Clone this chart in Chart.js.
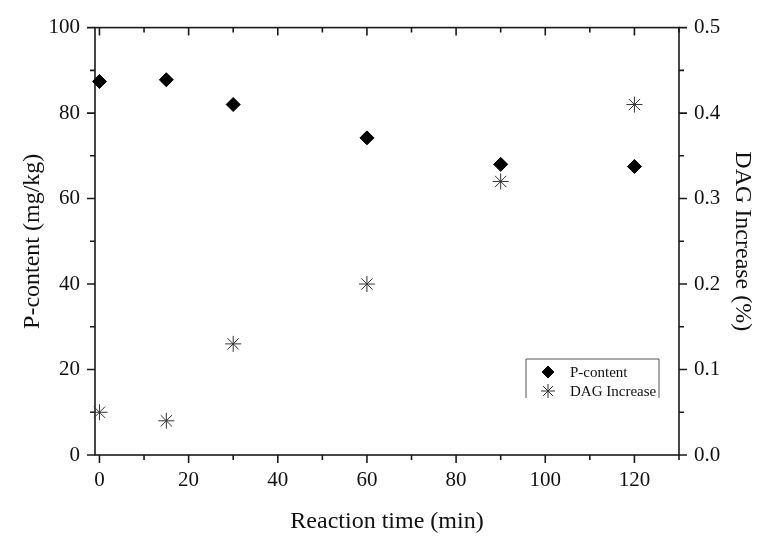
<!DOCTYPE html>
<html>
<head>
<meta charset="utf-8">
<script src="https://cdn.jsdelivr.net/npm/chart.js@4/dist/chart.umd.min.js"></script>
<style>
  html, body { margin: 0; padding: 0; background: #fff; }
  #wrap { width: 764px; height: 540px; }
</style>
</head>
<body>
<div id="wrap"><canvas id="c" width="764" height="540"></canvas></div>
<script>
// data
const times       = [0, 15, 30, 60, 90, 120];
const pContent    = [87.4, 87.8, 82.0, 74.2, 68.0, 67.5];
const dagIncrease = [0.05, 0.04, 0.13, 0.20, 0.32, 0.41];

const xTicks   = [0, 20, 40, 60, 80, 100, 120];
const xMinor   = [10, 30, 50, 70, 90, 110, 130];
const yTicks   = [0, 20, 40, 60, 80, 100];
const yMinor   = [10, 30, 50, 70, 90];
const y2Ticks  = [0, 0.1, 0.2, 0.3, 0.4, 0.5];
const y2Minor  = [0.05, 0.15, 0.25, 0.35, 0.45];

const SERIF = '"Liberation Serif", "Times New Roman", serif';
const INK   = '#1a1a1a';

// frame + major/minor ticks, Origin style
const frameTicks = {
  id: 'frameTicks',
  beforeDatasetsDraw(chart) {
    const { ctx, chartArea: a, scales } = chart;
    const { x, y, y2 } = scales;
    ctx.save();
    ctx.strokeStyle = INK;
    ctx.lineWidth = 1.6;
    ctx.strokeRect(a.left, a.top, a.right - a.left, a.bottom - a.top);

    ctx.beginPath();
    const hx = (v, len) => {
      const p = x.getPixelForValue(v);
      ctx.moveTo(p, a.bottom); ctx.lineTo(p, a.bottom + len);
      ctx.moveTo(p, a.top);    ctx.lineTo(p, a.top + len);
    };
    xTicks.forEach(v => hx(v, 8));
    xMinor.forEach(v => hx(v, 5));

    const vl = (v, len) => {
      const p = y.getPixelForValue(v);
      ctx.moveTo(a.left, p); ctx.lineTo(a.left - len, p);
    };
    yTicks.forEach(v => vl(v, 8));
    yMinor.forEach(v => vl(v, 5));

    const vr = (v, len) => {
      const p = y2.getPixelForValue(v);
      ctx.moveTo(a.right, p); ctx.lineTo(a.right + len, p);
    };
    y2Ticks.forEach(v => vr(v, 8));
    y2Minor.forEach(v => vr(v, 5));
    ctx.stroke();
    ctx.restore();
  }
};

// small open-bottom legend box in lower right
const boxLegend = {
  id: 'boxLegend',
  afterDraw(chart) {
    const { ctx, chartArea: a } = chart;
    const L = a.right - 153, R = a.right - 20, T = a.bottom - 96, B = a.bottom - 57;
    ctx.save();
    ctx.strokeStyle = '#555';
    ctx.lineWidth = 1;
    ctx.beginPath();
    ctx.moveTo(L, B); ctx.lineTo(L, T); ctx.lineTo(R, T); ctx.lineTo(R, B);
    ctx.stroke();

    ctx.font = '15px ' + SERIF;
    ctx.textBaseline = 'middle';
    chart.data.datasets.forEach((ds, i) => {
      const cy = T + 13 + i * 19;
      ctx.fillStyle = ds.backgroundColor;
      ctx.strokeStyle = ds.borderColor;
      ctx.lineWidth = ds.borderWidth;
      Chart.helpers.drawPoint(ctx, { pointStyle: ds.pointStyle, radius: ds.pointRadius - 1, borderWidth: ds.borderWidth }, L + 22, cy);
      ctx.fillStyle = '#111';
      ctx.fillText(ds.label, L + 44, cy + 1);
    });
    ctx.restore();
  }
};

const tickFont = { family: SERIF, size: 21 };
const titleFont = { family: SERIF, size: 24 };

new Chart(document.getElementById('c'), {
  type: 'scatter',
  data: {
    datasets: [
      {
        label: 'P-content',
        data: times.map((t, i) => ({ x: t, y: pContent[i] })),
        yAxisID: 'y',
        pointStyle: 'rectRot',
        pointRadius: 7,
        borderWidth: 1,
        backgroundColor: '#000',
        borderColor: '#000',
        clip: false
      },
      {
        label: 'DAG Increase',
        data: times.map((t, i) => ({ x: t, y: dagIncrease[i] })),
        yAxisID: 'y2',
        pointStyle: 'star',
        pointRadius: 8,
        borderWidth: 1,
        backgroundColor: '#333',
        borderColor: '#333',
        clip: false
      }
    ]
  },
  options: {
    responsive: false,
    animation: false,
    layout: { padding: { top: 24, left: 0, right: 0, bottom: 0 } },
    plugins: { legend: { display: false }, tooltip: { enabled: false } },
    scales: {
      x: {
        type: 'linear', position: 'bottom', min: -1, max: 130,
        afterBuildTicks: s => { s.ticks = xTicks.map(v => ({ value: v })); },
        afterFit: s => { s.height = 85; },
        grid: { display: false, drawTicks: false }, border: { display: false },
        ticks: { color: '#111', padding: 13, font: tickFont },
        title: { display: true, text: 'Reaction time (min)', color: '#111',
                 font: titleFont, padding: { bottom: 4 } }
      },
      y: {
        type: 'linear', position: 'left', min: 0, max: 100,
        afterBuildTicks: s => { s.ticks = yTicks.map(v => ({ value: v })); },
        afterFit: s => { s.width = 95; },
        grid: { display: false, drawTicks: false }, border: { display: false },
        ticks: { color: '#111', padding: 15, font: tickFont },
        title: { display: true, text: 'P-content (mg/kg)', color: '#111',
                 font: titleFont, padding: { top: 18 } }
      },
      y2: {
        type: 'linear', position: 'right', min: 0, max: 0.5,
        afterBuildTicks: s => { s.ticks = y2Ticks.map(v => ({ value: v })); },
        afterFit: s => { s.width = 85; },
        grid: { display: false, drawTicks: false }, border: { display: false },
        ticks: { color: '#111', padding: 15, font: tickFont,
                 callback: v => Number(v).toFixed(1) },
        title: { display: true, text: 'DAG Increase (%)', color: '#111',
                 font: titleFont, padding: { top: 7 } }
      }
    }
  },
  plugins: [frameTicks, boxLegend]
});
</script>
</body>
</html>
